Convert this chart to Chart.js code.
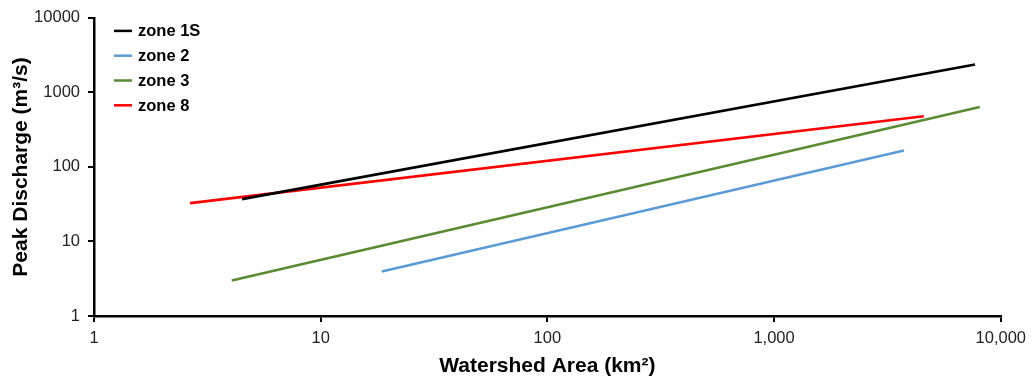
<!DOCTYPE html>
<html><head><meta charset="utf-8">
<script src="https://cdn.jsdelivr.net/npm/chart.js@4/dist/chart.umd.min.js"></script>
<style>html,body{margin:0;padding:0;background:#fff}#wrap{width:1033px;height:381px;position:relative}</style>
</head><body><div id="wrap"><canvas id="c" width="1033" height="381"></canvas></div>
<script>
const seriesNames = ["zone 1S", "zone 2", "zone 3", "zone 8"];
const zone1S_area = [4.5, 7700];
const zone1S_q = [37, 2370];
const zone2_area = [18.6, 3740];
const zone2_q = [3.96, 166];
const zone3_area = [4.05, 8080];
const zone3_q = [3.0, 637];
const zone8_area = [2.65, 4575];
const zone8_q = [32.7, 480];
const xTicks = [1, 10, 100, 1000, 10000];
const yTicks = [1, 10, 100, 1000, 10000];
const colors = ["#000000", "#5b9bd5", "#5a8a32", "#ff0000"];
const FF = '"Liberation Sans", Arial, sans-serif';

function pts(xs, ys){ return xs.map((x,i)=>({x:x, y:ys[i]})); }
const allData = [pts(zone1S_area, zone1S_q), pts(zone2_area, zone2_q), pts(zone3_area, zone3_q), pts(zone8_area, zone8_q)];

const legendPlugin = {
  id: 'inLegend',
  afterDraw(chart){
    const ctx = chart.ctx, a = chart.chartArea;
    ctx.save();
    ctx.font = 'bold 16.5px ' + FF;
    ctx.textBaseline = 'middle';
    chart.data.datasets.forEach((ds,i)=>{
      const y = a.top + 13 + i*24.8;
      const x0 = a.left + 20;
      ctx.strokeStyle = ds.borderColor; ctx.lineWidth = 2.5;
      ctx.beginPath(); ctx.moveTo(x0, y); ctx.lineTo(x0+18, y); ctx.stroke();
      ctx.fillStyle = '#000';
      ctx.fillText(ds.label, x0+24, y+1);
    });
    ctx.restore();
  }
};

new Chart(document.getElementById('c'), {
  type: 'scatter',
  data: {
    datasets: allData.map((d,i)=>({
      label: seriesNames[i], data: d, showLine: true, borderColor: colors[i],
      backgroundColor: colors[i], borderWidth: 2.6, pointRadius: 0, tension: 0
    }))
  },
  options: {
    responsive: false, animation: false,
    layout: { autoPadding: false, padding: { top: 14, right: 31, bottom: 2, left: 9 } },
    plugins: { legend: { display: false }, tooltip: { enabled: false } },
    scales: {
      x: {
        type: 'logarithmic', min: 1, max: 10000,
        afterBuildTicks: s => { s.ticks = xTicks.map(v=>({value:v})); },
        afterFit: s => { s.height = 63; },
        ticks: { color: '#222', font: { size: 16.5, family: FF },
          maxRotation: 0, padding: 7,
          callback: v => Number(v).toLocaleString('en-US') },
        grid: { drawOnChartArea: false, drawTicks: true, tickLength: 6, color: '#000', lineWidth: 2 },
        border: { color: '#000', width: 2.5 },
        title: { display: true, text: 'Watershed Area (km²)', color: '#000',
          font: { size: 21, weight: 'bold', family: FF }, padding: { top: 0, bottom: 0 } }
      },
      y: {
        type: 'logarithmic', min: 1, max: 10000,
        afterBuildTicks: s => { s.ticks = yTicks.map(v=>({value:v})); },
        afterFit: s => { s.width = 85; },
        ticks: { color: '#222', font: { size: 16.5, family: FF }, padding: 8,
          callback: v => String(v) },
        grid: { drawOnChartArea: false, drawTicks: true, tickLength: 6, color: '#000', lineWidth: 2 },
        border: { color: '#000', width: 2.5 },
        title: { display: true, text: 'Peak Discharge (m³/s)', color: '#000',
          font: { size: 21, weight: 'bold', family: FF }, padding: { top: 0, bottom: 0 } }
      }
    }
  },
  plugins: [legendPlugin]
});
</script></body></html>
